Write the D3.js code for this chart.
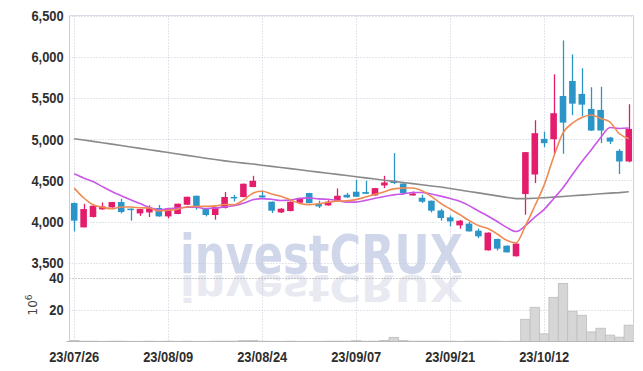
<!DOCTYPE html>
<html>
<head>
<meta charset="utf-8">
<script src="https://cdn.jsdelivr.net/npm/d3@7"></script>
<style>
  body { margin: 0; background: #fff; }
  svg { display: block; }
</style>
</head>
<body>
<div id="chart"></div>
<script>
var w = 643,
    h = 371;

// trading days shown (yy/mm/dd)
var dates = [
  "23/07/26","23/07/27","23/07/28","23/07/31","23/08/01","23/08/02","23/08/03","23/08/04","23/08/07","23/08/08",
  "23/08/09","23/08/10","23/08/11","23/08/14","23/08/16","23/08/17","23/08/18","23/08/21","23/08/22","23/08/23",
  "23/08/24","23/08/25","23/08/28","23/08/29","23/08/30","23/08/31","23/09/01","23/09/04","23/09/05","23/09/06",
  "23/09/07","23/09/08","23/09/11","23/09/12","23/09/13","23/09/14","23/09/15","23/09/18","23/09/19","23/09/20",
  "23/09/21","23/09/22","23/09/25","23/09/26","23/09/27","23/10/04","23/10/05","23/10/06","23/10/10","23/10/11",
  "23/10/12","23/10/13","23/10/16","23/10/17","23/10/18","23/10/19","23/10/20","23/10/23","23/10/24","23/10/25"
];

var open = [
  4226,3931,4057,4149,4173,4238,4158,4100,4112,4165,
  4064,4093,4205,4314,4153,4081,4166,4300,4299,4420,
  4318,4242,4112,4129,4230,4347,4218,4197,4254,4326,
  4363,4359,4318,4439,4496,4463,4318,4290,4254,4136,
  4052,3955,3976,3891,3652,3790,3709,3580,4335,4572,
  5004,5000,5524,5706,5549,5367,5355,5020,4859,4730
];
var high = [
  4232,4217,4209,4233,4240,4278,4160,4155,4197,4202,
  4160,4218,4302,4316,4155,4185,4359,4326,4462,4556,
  4378,4245,4165,4245,4282,4350,4254,4260,4403,4350,
  4508,4496,4410,4556,4831,4465,4366,4326,4256,4155,
  4076,4020,4000,3915,3870,3795,3712,3737,4845,5230,
  5092,5787,6198,6029,5860,5630,5637,5025,4880,5424
];
var low = [
  3882,3931,4050,4145,4170,4100,4012,4070,4057,4060,
  4040,4090,4200,4145,4064,4024,4160,4245,4295,4418,
  4290,4105,4105,4125,4225,4222,4165,4195,4250,4290,
  4298,4335,4315,4407,4455,4326,4315,4226,4112,4012,
  3943,3915,3880,3800,3650,3650,3625,3578,4084,4468,
  4904,4823,4823,5291,5282,5100,4952,4940,4577,4720
];
var close = [
  4012,4153,4193,4185,4238,4117,4150,4153,4165,4064,
  4157,4218,4302,4178,4081,4178,4299,4290,4460,4496,
  4294,4133,4157,4242,4278,4226,4185,4242,4314,4294,
  4302,4338,4407,4475,4468,4347,4342,4242,4133,4044,
  4003,4012,3882,3822,3867,3673,3628,3734,4843,5073,
  4952,5315,5201,5431,5419,5105,5105,4971,4730,5125
];

// volume, millions of shares
var volume = [
  0.6,0.2,0.2,0.1,0.2,0.2,0.1,0.1,0.2,0.1,
  0.2,0.1,0.2,0.1,0.1,0.2,0.2,0.2,0.5,0.6,
  0.2,0.1,0.1,0.2,0.1,0.1,0.1,0.2,0.2,0.2,
  0.5,0.2,0.2,0.7,2.6,0.6,0.2,0.2,0.2,0.2,
  0.2,0.1,0.2,0.2,0.2,0.2,0.1,0.2,13.9,21.4,
  4.8,27.6,36.3,18.9,16.4,6.0,8.3,4.0,2.7,10.2
];

// moving averages as drawn
var ma5 = [
  4407,4290,4205,4175,4156,4177,4177,4169,4165,4130,
  4138,4151,4181,4184,4187,4191,4208,4205,4262,4345,
  4368,4335,4308,4264,4221,4207,4218,4235,4249,4252,
  4267,4298,4331,4363,4398,4407,4408,4375,4306,4222,
  4153,4087,4015,3953,3917,3851,3774,3745,3949,4190,
  4446,4783,5077,5194,5264,5294,5252,5206,5066,5007
];
var ma10 = [
  4580,4530,4487,4425,4366,4315,4266,4220,4173,4143,
  4158,4164,4175,4174,4159,4165,4180,4193,4223,4266,
  4280,4271,4257,4263,4283,4288,4276,4271,4257,4237,
  4237,4258,4283,4306,4325,4337,4353,4353,4335,4310,
  4280,4247,4195,4130,4069,4002,3931,3880,3951,4054,
  4149,4279,4411,4572,4727,4870,5018,5142,5130,5135
];
var ma120 = [
  5005,4990,4974,4957,4940,4923,4906,4889,4872,4855,
  4838,4821,4804,4787,4770,4753,4737,4723,4710,4699,
  4685,4671,4657,4643,4629,4615,4601,4587,4573,4559,
  4545,4531,4517,4503,4489,4475,4461,4447,4433,4420,
  4402,4384,4366,4349,4331,4313,4295,4280,4280,4284,
  4290,4298,4306,4314,4322,4330,4338,4346,4352,4362
];

var priceTicks = [3500, 4000, 4500, 5000, 5500, 6000, 6500];
var volTicks = [20, 40];
var dateTicks = ["23/07/26","23/08/09","23/08/24","23/09/07","23/09/21","23/10/12"];

var upColor = "#e31c6c",
    downColor = "#2b95c8";
var tickFont = "'Liberation Sans',Arial,sans-serif";

var pLeft = 69.5, pRight = 633.5,
    pTop = 15.5, pSplit = 277.5, pBottom = 341.5;

var svg = d3.select("#chart")
            .append("svg")
            .attr("width", w)
            .attr("height", h);

var x = d3.scaleBand()
          .domain(dates)
          .range([pLeft, pRight]);

var yP = d3.scaleLinear()
           .domain([3323, 6500])
           .range([pSplit, pTop]);

var yV = d3.scaleLinear()
           .domain([0, 40])
           .range([pBottom, pSplit]);

function cx(i) { return x(dates[i]) + x.bandwidth() / 2; }

// --- watermark ---
var wm = svg.append("g");
wm.append("text")
  .attr("x", 180).attr("y", 272.5)
  .attr("textLength", 283).attr("lengthAdjust", "spacingAndGlyphs")
  .attr("font-family", "'DejaVu Sans',sans-serif")
  .attr("font-weight", "bold").attr("font-size", 54)
  .attr("fill", "#d1d7eb")
  .text("investCRUX");
wm.append("text")
  .attr("x", 180).attr("y", 272.5)
  .attr("transform", "translate(0,275) scale(1,-0.7) translate(0,-272.5)")
  .attr("textLength", 283).attr("lengthAdjust", "spacingAndGlyphs")
  .attr("font-family", "'DejaVu Sans',sans-serif")
  .attr("font-weight", "bold").attr("font-size", 54)
  .attr("fill", "#e8e9f1")
  .text("investCRUX");

// --- grid ---
var grid = svg.append("g")
              .attr("stroke", "#c6cad8")
              .attr("stroke-dasharray", "1,2");

grid.selectAll("line.hp")
    .data(priceTicks)
    .enter().append("line")
    .attr("x1", pLeft).attr("x2", pRight)
    .attr("y1", function(d) { return Math.round(yP(d)) + 0.5; })
    .attr("y2", function(d) { return Math.round(yP(d)) + 0.5; });

grid.selectAll("line.hv")
    .data(volTicks)
    .enter().append("line")
    .attr("x1", pLeft).attr("x2", pRight)
    .attr("y1", function(d) { return Math.round(yV(d)) + 0.5; })
    .attr("y2", function(d) { return Math.round(yV(d)) + 0.5; })
    .attr("stroke", function(d) { return d == 40 ? "#9a9a9a" : null; });

grid.selectAll("line.vx")
    .data(dateTicks)
    .enter().append("line")
    .attr("x1", function(d) { return Math.round(x(d) + x.bandwidth() / 2) + 0.5; })
    .attr("x2", function(d) { return Math.round(x(d) + x.bandwidth() / 2) + 0.5; })
    .attr("y1", pTop).attr("y2", pBottom);

// --- volume bars ---
svg.append("g")
   .selectAll("rect")
   .data(volume)
   .enter().append("rect")
   .attr("x", function(d, i) { return x(dates[i]); })
   .attr("width", x.bandwidth())
   .attr("y", function(d) { return yV(d); })
   .attr("height", function(d) { return pBottom - yV(d); })
   .attr("fill", "#d6d6d6")
   .attr("stroke", "#bdbdbd")
   .attr("stroke-width", 0.8);

// --- candles ---
var bodyW = x.bandwidth() * 0.7;
var candles = svg.append("g")
                 .selectAll("g")
                 .data(close)
                 .enter().append("g");

candles.append("line")
       .attr("x1", function(d, i) { return Math.round(cx(i)) + 0.5; })
       .attr("x2", function(d, i) { return Math.round(cx(i)) + 0.5; })
       .attr("y1", function(d, i) { return yP(high[i]); })
       .attr("y2", function(d, i) { return yP(low[i]); })
       .attr("stroke", function(d, i) { return close[i] >= open[i] ? upColor : downColor; })
       .attr("stroke-width", 1.3);

candles.append("rect")
       .attr("x", function(d, i) { return cx(i) - bodyW / 2; })
       .attr("width", bodyW)
       .attr("y", function(d, i) { return yP(Math.max(open[i], close[i])); })
       .attr("height", function(d, i) {
            return Math.max(1.5, Math.abs(yP(open[i]) - yP(close[i])));
       })
       .attr("fill", function(d, i) { return close[i] >= open[i] ? upColor : downColor; });

// --- moving averages ---
function maLine(arr, color, curve) {
  var line = d3.line()
               .x(function(d, i) { return cx(i); })
               .y(function(d) { return yP(d); })
               .curve(curve);
  svg.append("path")
     .datum(arr)
     .attr("d", line)
     .attr("fill", "none")
     .attr("stroke", color)
     .attr("stroke-width", 1.6);
}
maLine(ma120, "#8a8a8a", d3.curveLinear);
maLine(ma10, "#c958e6", d3.curveMonotoneX);
maLine(ma5, "#ef8a52", d3.curveMonotoneX);

// --- frame ---
svg.append("line")
   .attr("x1", pLeft).attr("x2", pLeft)
   .attr("y1", pTop).attr("y2", pBottom)
   .attr("stroke", "#c9cddc");
svg.append("line")
   .attr("x1", pRight).attr("x2", pRight)
   .attr("y1", pTop).attr("y2", pBottom)
   .attr("stroke", "#d2d2d2");
svg.append("line")
   .attr("x1", pLeft).attr("x2", pRight)
   .attr("y1", pTop).attr("y2", pTop)
   .attr("stroke", "#d8dbe5");
svg.append("line")
   .attr("x1", pLeft - 3).attr("x2", pRight)
   .attr("y1", pBottom).attr("y2", pBottom)
   .attr("stroke", "#b8b8b8");

// --- axes ---
var axisP = svg.append("g")
   .attr("transform", "translate(" + (pLeft - 5) + ",0)")
   .call(d3.axisLeft(yP).tickValues(priceTicks).tickFormat(d3.format(",")).tickSize(0));
var axisV = svg.append("g")
   .attr("transform", "translate(" + (pLeft - 5) + ",0)")
   .call(d3.axisLeft(yV).tickValues(volTicks).tickSize(0));
var axisX = svg.append("g")
   .attr("transform", "translate(0," + (pBottom + 3) + ")")
   .call(d3.axisBottom(x).tickValues(dateTicks).tickSize(0));

// narrow bold labels
[axisP, axisV, axisX].forEach(function(a) {
  a.select(".domain").remove();
  a.selectAll("text")
   .attr("font-family", tickFont)
   .attr("font-weight", "bold")
   .attr("font-size", 15)
   .attr("fill", "#2e2e2e")
   .attr("transform", "scale(0.86,1)");
});
axisP.selectAll("text").attr("x", -1);
axisV.selectAll("text").attr("x", -1);
axisX.selectAll("text").attr("dy", "0.95em");

svg.append("text")
   .attr("transform", "translate(37,305) rotate(-90)")
   .attr("text-anchor", "middle")
   .attr("font-family", "'DejaVu Sans',sans-serif")
   .attr("font-size", 12)
   .attr("fill", "#444")
   .text("10")
   .append("tspan")
   .attr("dy", -5)
   .attr("font-size", 9)
   .text("6");
</script>
</body>
</html>
